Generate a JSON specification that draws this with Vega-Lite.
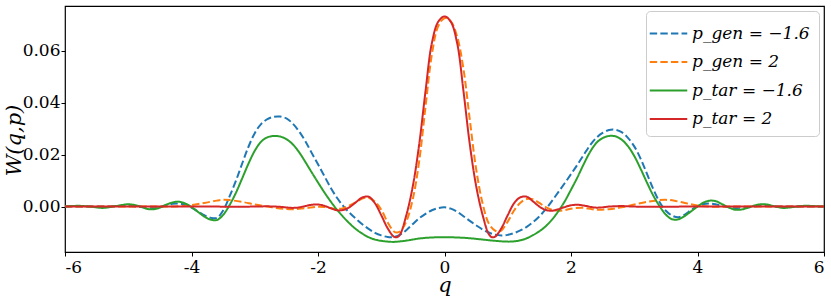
{
  "$schema": "https://vega.github.io/schema/vega-lite/v6.json",
  "width": 759,
  "height": 246,
  "autosize": {"type": "none"},
  "padding": {"left": 65, "top": 6, "right": 7, "bottom": 46},
  "config": {
    "view": {"stroke": "black", "strokeWidth": 1.2},
    "font": "DejaVu Serif",
    "axis": {"domain": false, "grid": false, "tickColor": "black", "tickSize": 4, "tickWidth": 1, "labelColor": "black", "labelFont": "DejaVu Serif", "labelFontSize": 17, "titleFont": "DejaVu Serif", "titleFontStyle": "italic", "titleFontWeight": "normal", "titleColor": "black"},
    "legend": {"labelFont": "DejaVu Serif", "labelFontStyle": "italic", "labelFontSize": 17, "labelColor": "black", "labelLimit": 300}
  },
  "data": {"values": [
    {"q": -6, "W": 0, "s": "p_gen = −1.6"},
    {"q": -5.6, "W": 0, "s": "p_gen = −1.6"},
    {"q": -5.2, "W": 0.0001, "s": "p_gen = −1.6"},
    {"q": -5.0, "W": 0.0003, "s": "p_gen = −1.6"},
    {"q": -4.8, "W": -0.0002, "s": "p_gen = −1.6"},
    {"q": -4.6, "W": -0.0005, "s": "p_gen = −1.6"},
    {"q": -4.5, "W": -0.0002, "s": "p_gen = −1.6"},
    {"q": -4.4, "W": 0.0006, "s": "p_gen = −1.6"},
    {"q": -4.3, "W": 0.0011, "s": "p_gen = −1.6"},
    {"q": -4.2, "W": 0.0012, "s": "p_gen = −1.6"},
    {"q": -4.1, "W": 0.0007, "s": "p_gen = −1.6"},
    {"q": -4.0, "W": -0.0004, "s": "p_gen = −1.6"},
    {"q": -3.9, "W": -0.0018, "s": "p_gen = −1.6"},
    {"q": -3.8, "W": -0.0033, "s": "p_gen = −1.6"},
    {"q": -3.7, "W": -0.0043, "s": "p_gen = −1.6"},
    {"q": -3.6, "W": -0.0044, "s": "p_gen = −1.6"},
    {"q": -3.5, "W": -0.0015, "s": "p_gen = −1.6"},
    {"q": -3.4, "W": 0.0038, "s": "p_gen = −1.6"},
    {"q": -3.3, "W": 0.0098, "s": "p_gen = −1.6"},
    {"q": -3.2, "W": 0.0165, "s": "p_gen = −1.6"},
    {"q": -3.1, "W": 0.0230, "s": "p_gen = −1.6"},
    {"q": -3.0, "W": 0.0283, "s": "p_gen = −1.6"},
    {"q": -2.9, "W": 0.0318, "s": "p_gen = −1.6"},
    {"q": -2.8, "W": 0.0337, "s": "p_gen = −1.6"},
    {"q": -2.7, "W": 0.0346, "s": "p_gen = −1.6"},
    {"q": -2.6, "W": 0.0347, "s": "p_gen = −1.6"},
    {"q": -2.5, "W": 0.0340, "s": "p_gen = −1.6"},
    {"q": -2.4, "W": 0.0320, "s": "p_gen = −1.6"},
    {"q": -2.3, "W": 0.0290, "s": "p_gen = −1.6"},
    {"q": -2.2, "W": 0.0252, "s": "p_gen = −1.6"},
    {"q": -2.1, "W": 0.0207, "s": "p_gen = −1.6"},
    {"q": -2.0, "W": 0.0163, "s": "p_gen = −1.6"},
    {"q": -1.9, "W": 0.0118, "s": "p_gen = −1.6"},
    {"q": -1.8, "W": 0.0073, "s": "p_gen = −1.6"},
    {"q": -1.7, "W": 0.0034, "s": "p_gen = −1.6"},
    {"q": -1.6, "W": 0.0002, "s": "p_gen = −1.6"},
    {"q": -1.5, "W": -0.0024, "s": "p_gen = −1.6"},
    {"q": -1.4, "W": -0.0047, "s": "p_gen = −1.6"},
    {"q": -1.3, "W": -0.0068, "s": "p_gen = −1.6"},
    {"q": -1.2, "W": -0.0086, "s": "p_gen = −1.6"},
    {"q": -1.1, "W": -0.0101, "s": "p_gen = −1.6"},
    {"q": -1.0, "W": -0.0111, "s": "p_gen = −1.6"},
    {"q": -0.9, "W": -0.0117, "s": "p_gen = −1.6"},
    {"q": -0.8, "W": -0.0117, "s": "p_gen = −1.6"},
    {"q": -0.7, "W": -0.0108, "s": "p_gen = −1.6"},
    {"q": -0.6, "W": -0.0090, "s": "p_gen = −1.6"},
    {"q": -0.5, "W": -0.0067, "s": "p_gen = −1.6"},
    {"q": -0.4, "W": -0.0045, "s": "p_gen = −1.6"},
    {"q": -0.3, "W": -0.0028, "s": "p_gen = −1.6"},
    {"q": -0.2, "W": -0.0014, "s": "p_gen = −1.6"},
    {"q": -0.1, "W": -0.0006, "s": "p_gen = −1.6"},
    {"q": 0.0, "W": -0.0003, "s": "p_gen = −1.6"},
    {"q": 0.1, "W": -0.0008, "s": "p_gen = −1.6"},
    {"q": 0.2, "W": -0.0020, "s": "p_gen = −1.6"},
    {"q": 0.3, "W": -0.0037, "s": "p_gen = −1.6"},
    {"q": 0.4, "W": -0.0055, "s": "p_gen = −1.6"},
    {"q": 0.5, "W": -0.0072, "s": "p_gen = −1.6"},
    {"q": 0.6, "W": -0.0088, "s": "p_gen = −1.6"},
    {"q": 0.7, "W": -0.0100, "s": "p_gen = −1.6"},
    {"q": 0.8, "W": -0.0108, "s": "p_gen = −1.6"},
    {"q": 0.9, "W": -0.0111, "s": "p_gen = −1.6"},
    {"q": 1.0, "W": -0.0109, "s": "p_gen = −1.6"},
    {"q": 1.1, "W": -0.0102, "s": "p_gen = −1.6"},
    {"q": 1.2, "W": -0.0092, "s": "p_gen = −1.6"},
    {"q": 1.3, "W": -0.0078, "s": "p_gen = −1.6"},
    {"q": 1.4, "W": -0.0060, "s": "p_gen = −1.6"},
    {"q": 1.5, "W": -0.0038, "s": "p_gen = −1.6"},
    {"q": 1.6, "W": -0.0010, "s": "p_gen = −1.6"},
    {"q": 1.7, "W": 0.0022, "s": "p_gen = −1.6"},
    {"q": 1.8, "W": 0.0056, "s": "p_gen = −1.6"},
    {"q": 1.9, "W": 0.0090, "s": "p_gen = −1.6"},
    {"q": 2.0, "W": 0.0125, "s": "p_gen = −1.6"},
    {"q": 2.1, "W": 0.0161, "s": "p_gen = −1.6"},
    {"q": 2.2, "W": 0.0199, "s": "p_gen = −1.6"},
    {"q": 2.3, "W": 0.0236, "s": "p_gen = −1.6"},
    {"q": 2.4, "W": 0.0265, "s": "p_gen = −1.6"},
    {"q": 2.5, "W": 0.0284, "s": "p_gen = −1.6"},
    {"q": 2.6, "W": 0.0295, "s": "p_gen = −1.6"},
    {"q": 2.7, "W": 0.0296, "s": "p_gen = −1.6"},
    {"q": 2.8, "W": 0.0287, "s": "p_gen = −1.6"},
    {"q": 2.9, "W": 0.0265, "s": "p_gen = −1.6"},
    {"q": 3.0, "W": 0.0232, "s": "p_gen = −1.6"},
    {"q": 3.1, "W": 0.0185, "s": "p_gen = −1.6"},
    {"q": 3.2, "W": 0.0127, "s": "p_gen = −1.6"},
    {"q": 3.3, "W": 0.0068, "s": "p_gen = −1.6"},
    {"q": 3.4, "W": 0.0018, "s": "p_gen = −1.6"},
    {"q": 3.5, "W": -0.0016, "s": "p_gen = −1.6"},
    {"q": 3.6, "W": -0.0035, "s": "p_gen = −1.6"},
    {"q": 3.7, "W": -0.0041, "s": "p_gen = −1.6"},
    {"q": 3.8, "W": -0.0031, "s": "p_gen = −1.6"},
    {"q": 3.9, "W": -0.0013, "s": "p_gen = −1.6"},
    {"q": 4.0, "W": 0.0002, "s": "p_gen = −1.6"},
    {"q": 4.1, "W": 0.0010, "s": "p_gen = −1.6"},
    {"q": 4.2, "W": 0.0012, "s": "p_gen = −1.6"},
    {"q": 4.3, "W": 0.0008, "s": "p_gen = −1.6"},
    {"q": 4.4, "W": 0.0002, "s": "p_gen = −1.6"},
    {"q": 4.5, "W": -0.0003, "s": "p_gen = −1.6"},
    {"q": 4.6, "W": -0.0005, "s": "p_gen = −1.6"},
    {"q": 4.8, "W": -0.0003, "s": "p_gen = −1.6"},
    {"q": 5.0, "W": 0.0003, "s": "p_gen = −1.6"},
    {"q": 5.2, "W": 0.0001, "s": "p_gen = −1.6"},
    {"q": 5.6, "W": 0, "s": "p_gen = −1.6"},
    {"q": 6.0, "W": 0, "s": "p_gen = −1.6"},

    {"q": -6, "W": 0, "s": "p_gen = 2"},
    {"q": -5, "W": 0, "s": "p_gen = 2"},
    {"q": -4.6, "W": 0, "s": "p_gen = 2"},
    {"q": -4.4, "W": 0.0000, "s": "p_gen = 2"},
    {"q": -4.2, "W": 0.0001, "s": "p_gen = 2"},
    {"q": -4.0, "W": 0.0006, "s": "p_gen = 2"},
    {"q": -3.8, "W": 0.0014, "s": "p_gen = 2"},
    {"q": -3.6, "W": 0.0023, "s": "p_gen = 2"},
    {"q": -3.5, "W": 0.0026, "s": "p_gen = 2"},
    {"q": -3.4, "W": 0.0025, "s": "p_gen = 2"},
    {"q": -3.2, "W": 0.0018, "s": "p_gen = 2"},
    {"q": -3.0, "W": 0.0008, "s": "p_gen = 2"},
    {"q": -2.8, "W": 0.0000, "s": "p_gen = 2"},
    {"q": -2.6, "W": -0.0007, "s": "p_gen = 2"},
    {"q": -2.4, "W": -0.0010, "s": "p_gen = 2"},
    {"q": -2.2, "W": -0.0006, "s": "p_gen = 2"},
    {"q": -2.0, "W": -0.0001, "s": "p_gen = 2"},
    {"q": -1.9, "W": -0.0002, "s": "p_gen = 2"},
    {"q": -1.8, "W": -0.0006, "s": "p_gen = 2"},
    {"q": -1.7, "W": -0.0009, "s": "p_gen = 2"},
    {"q": -1.6, "W": -0.0006, "s": "p_gen = 2"},
    {"q": -1.5, "W": 0.0005, "s": "p_gen = 2"},
    {"q": -1.4, "W": 0.0017, "s": "p_gen = 2"},
    {"q": -1.3, "W": 0.0031, "s": "p_gen = 2"},
    {"q": -1.2, "W": 0.0034, "s": "p_gen = 2"},
    {"q": -1.1, "W": 0.0019, "s": "p_gen = 2"},
    {"q": -1.0, "W": -0.0012, "s": "p_gen = 2"},
    {"q": -0.9, "W": -0.0060, "s": "p_gen = 2"},
    {"q": -0.8, "W": -0.0096, "s": "p_gen = 2"},
    {"q": -0.75, "W": -0.0100, "s": "p_gen = 2"},
    {"q": -0.7, "W": -0.0095, "s": "p_gen = 2"},
    {"q": -0.6, "W": -0.0055, "s": "p_gen = 2"},
    {"q": -0.5, "W": 0.0030, "s": "p_gen = 2"},
    {"q": -0.4, "W": 0.0175, "s": "p_gen = 2"},
    {"q": -0.3, "W": 0.0385, "s": "p_gen = 2"},
    {"q": -0.2, "W": 0.0585, "s": "p_gen = 2"},
    {"q": -0.1, "W": 0.0695, "s": "p_gen = 2"},
    {"q": 0.0, "W": 0.0726, "s": "p_gen = 2"},
    {"q": 0.1, "W": 0.0714, "s": "p_gen = 2"},
    {"q": 0.2, "W": 0.0655, "s": "p_gen = 2"},
    {"q": 0.3, "W": 0.0530, "s": "p_gen = 2"},
    {"q": 0.4, "W": 0.0335, "s": "p_gen = 2"},
    {"q": 0.5, "W": 0.0145, "s": "p_gen = 2"},
    {"q": 0.6, "W": 0.0015, "s": "p_gen = 2"},
    {"q": 0.7, "W": -0.0065, "s": "p_gen = 2"},
    {"q": 0.8, "W": -0.0093, "s": "p_gen = 2"},
    {"q": 0.85, "W": -0.0096, "s": "p_gen = 2"},
    {"q": 0.9, "W": -0.0092, "s": "p_gen = 2"},
    {"q": 1.0, "W": -0.0058, "s": "p_gen = 2"},
    {"q": 1.1, "W": -0.0015, "s": "p_gen = 2"},
    {"q": 1.2, "W": 0.0015, "s": "p_gen = 2"},
    {"q": 1.3, "W": 0.0029, "s": "p_gen = 2"},
    {"q": 1.4, "W": 0.0028, "s": "p_gen = 2"},
    {"q": 1.5, "W": 0.0014, "s": "p_gen = 2"},
    {"q": 1.6, "W": -0.0002, "s": "p_gen = 2"},
    {"q": 1.7, "W": -0.0012, "s": "p_gen = 2"},
    {"q": 1.8, "W": -0.0016, "s": "p_gen = 2"},
    {"q": 1.9, "W": -0.0014, "s": "p_gen = 2"},
    {"q": 2.0, "W": -0.0008, "s": "p_gen = 2"},
    {"q": 2.2, "W": -0.0005, "s": "p_gen = 2"},
    {"q": 2.4, "W": -0.0012, "s": "p_gen = 2"},
    {"q": 2.6, "W": -0.0010, "s": "p_gen = 2"},
    {"q": 2.8, "W": -0.0003, "s": "p_gen = 2"},
    {"q": 3.0, "W": 0.0008, "s": "p_gen = 2"},
    {"q": 3.2, "W": 0.0018, "s": "p_gen = 2"},
    {"q": 3.4, "W": 0.0025, "s": "p_gen = 2"},
    {"q": 3.5, "W": 0.0026, "s": "p_gen = 2"},
    {"q": 3.6, "W": 0.0024, "s": "p_gen = 2"},
    {"q": 3.8, "W": 0.0014, "s": "p_gen = 2"},
    {"q": 4.0, "W": 0.0004, "s": "p_gen = 2"},
    {"q": 4.2, "W": 0.0000, "s": "p_gen = 2"},
    {"q": 4.6, "W": 0, "s": "p_gen = 2"},
    {"q": 6.0, "W": 0, "s": "p_gen = 2"},

    {"q": -6, "W": 0, "s": "p_tar = −1.6"},
    {"q": -5.8, "W": 0.0003, "s": "p_tar = −1.6"},
    {"q": -5.6, "W": 0.0, "s": "p_tar = −1.6"},
    {"q": -5.4, "W": -0.0005, "s": "p_tar = −1.6"},
    {"q": -5.2, "W": 0.0002, "s": "p_tar = −1.6"},
    {"q": -5.0, "W": 0.0009, "s": "p_tar = −1.6"},
    {"q": -4.9, "W": 0.0006, "s": "p_tar = −1.6"},
    {"q": -4.8, "W": 0.0, "s": "p_tar = −1.6"},
    {"q": -4.7, "W": -0.0009, "s": "p_tar = −1.6"},
    {"q": -4.6, "W": -0.0010, "s": "p_tar = −1.6"},
    {"q": -4.5, "W": -0.0004, "s": "p_tar = −1.6"},
    {"q": -4.4, "W": 0.0007, "s": "p_tar = −1.6"},
    {"q": -4.3, "W": 0.0016, "s": "p_tar = −1.6"},
    {"q": -4.2, "W": 0.0019, "s": "p_tar = −1.6"},
    {"q": -4.1, "W": 0.0012, "s": "p_tar = −1.6"},
    {"q": -4.0, "W": -0.0002, "s": "p_tar = −1.6"},
    {"q": -3.9, "W": -0.0020, "s": "p_tar = −1.6"},
    {"q": -3.8, "W": -0.0038, "s": "p_tar = −1.6"},
    {"q": -3.7, "W": -0.0050, "s": "p_tar = −1.6"},
    {"q": -3.6, "W": -0.0052, "s": "p_tar = −1.6"},
    {"q": -3.5, "W": -0.0032, "s": "p_tar = −1.6"},
    {"q": -3.4, "W": 0.0005, "s": "p_tar = −1.6"},
    {"q": -3.3, "W": 0.0052, "s": "p_tar = −1.6"},
    {"q": -3.2, "W": 0.0108, "s": "p_tar = −1.6"},
    {"q": -3.1, "W": 0.0165, "s": "p_tar = −1.6"},
    {"q": -3.0, "W": 0.0215, "s": "p_tar = −1.6"},
    {"q": -2.9, "W": 0.0250, "s": "p_tar = −1.6"},
    {"q": -2.8, "W": 0.0267, "s": "p_tar = −1.6"},
    {"q": -2.7, "W": 0.0272, "s": "p_tar = −1.6"},
    {"q": -2.6, "W": 0.0270, "s": "p_tar = −1.6"},
    {"q": -2.5, "W": 0.0260, "s": "p_tar = −1.6"},
    {"q": -2.4, "W": 0.0240, "s": "p_tar = −1.6"},
    {"q": -2.3, "W": 0.0210, "s": "p_tar = −1.6"},
    {"q": -2.2, "W": 0.0172, "s": "p_tar = −1.6"},
    {"q": -2.1, "W": 0.0132, "s": "p_tar = −1.6"},
    {"q": -2.0, "W": 0.0093, "s": "p_tar = −1.6"},
    {"q": -1.9, "W": 0.0055, "s": "p_tar = −1.6"},
    {"q": -1.8, "W": 0.0020, "s": "p_tar = −1.6"},
    {"q": -1.7, "W": -0.0012, "s": "p_tar = −1.6"},
    {"q": -1.6, "W": -0.0040, "s": "p_tar = −1.6"},
    {"q": -1.5, "W": -0.0065, "s": "p_tar = −1.6"},
    {"q": -1.4, "W": -0.0087, "s": "p_tar = −1.6"},
    {"q": -1.3, "W": -0.0104, "s": "p_tar = −1.6"},
    {"q": -1.2, "W": -0.0118, "s": "p_tar = −1.6"},
    {"q": -1.1, "W": -0.0127, "s": "p_tar = −1.6"},
    {"q": -1.0, "W": -0.0132, "s": "p_tar = −1.6"},
    {"q": -0.9, "W": -0.0135, "s": "p_tar = −1.6"},
    {"q": -0.8, "W": -0.0136, "s": "p_tar = −1.6"},
    {"q": -0.7, "W": -0.0134, "s": "p_tar = −1.6"},
    {"q": -0.6, "W": -0.0131, "s": "p_tar = −1.6"},
    {"q": -0.5, "W": -0.0127, "s": "p_tar = −1.6"},
    {"q": -0.4, "W": -0.0123, "s": "p_tar = −1.6"},
    {"q": -0.2, "W": -0.0119, "s": "p_tar = −1.6"},
    {"q": 0.0, "W": -0.0118, "s": "p_tar = −1.6"},
    {"q": 0.2, "W": -0.0119, "s": "p_tar = −1.6"},
    {"q": 0.4, "W": -0.0122, "s": "p_tar = −1.6"},
    {"q": 0.6, "W": -0.0127, "s": "p_tar = −1.6"},
    {"q": 0.8, "W": -0.0132, "s": "p_tar = −1.6"},
    {"q": 1.0, "W": -0.0135, "s": "p_tar = −1.6"},
    {"q": 1.1, "W": -0.0134, "s": "p_tar = −1.6"},
    {"q": 1.2, "W": -0.0130, "s": "p_tar = −1.6"},
    {"q": 1.3, "W": -0.0122, "s": "p_tar = −1.6"},
    {"q": 1.4, "W": -0.0110, "s": "p_tar = −1.6"},
    {"q": 1.5, "W": -0.0095, "s": "p_tar = −1.6"},
    {"q": 1.6, "W": -0.0076, "s": "p_tar = −1.6"},
    {"q": 1.7, "W": -0.0050, "s": "p_tar = −1.6"},
    {"q": 1.8, "W": -0.0018, "s": "p_tar = −1.6"},
    {"q": 1.9, "W": 0.0020, "s": "p_tar = −1.6"},
    {"q": 2.0, "W": 0.0065, "s": "p_tar = −1.6"},
    {"q": 2.1, "W": 0.0112, "s": "p_tar = −1.6"},
    {"q": 2.2, "W": 0.0163, "s": "p_tar = −1.6"},
    {"q": 2.3, "W": 0.0210, "s": "p_tar = −1.6"},
    {"q": 2.4, "W": 0.0245, "s": "p_tar = −1.6"},
    {"q": 2.5, "W": 0.0264, "s": "p_tar = −1.6"},
    {"q": 2.6, "W": 0.0272, "s": "p_tar = −1.6"},
    {"q": 2.7, "W": 0.0271, "s": "p_tar = −1.6"},
    {"q": 2.8, "W": 0.0258, "s": "p_tar = −1.6"},
    {"q": 2.9, "W": 0.0233, "s": "p_tar = −1.6"},
    {"q": 3.0, "W": 0.0195, "s": "p_tar = −1.6"},
    {"q": 3.1, "W": 0.0146, "s": "p_tar = −1.6"},
    {"q": 3.2, "W": 0.0093, "s": "p_tar = −1.6"},
    {"q": 3.3, "W": 0.0043, "s": "p_tar = −1.6"},
    {"q": 3.4, "W": 0.0002, "s": "p_tar = −1.6"},
    {"q": 3.5, "W": -0.0031, "s": "p_tar = −1.6"},
    {"q": 3.6, "W": -0.0049, "s": "p_tar = −1.6"},
    {"q": 3.7, "W": -0.0049, "s": "p_tar = −1.6"},
    {"q": 3.8, "W": -0.0036, "s": "p_tar = −1.6"},
    {"q": 3.9, "W": -0.0018, "s": "p_tar = −1.6"},
    {"q": 4.0, "W": 0.0000, "s": "p_tar = −1.6"},
    {"q": 4.1, "W": 0.0016, "s": "p_tar = −1.6"},
    {"q": 4.2, "W": 0.0023, "s": "p_tar = −1.6"},
    {"q": 4.3, "W": 0.0020, "s": "p_tar = −1.6"},
    {"q": 4.4, "W": 0.0008, "s": "p_tar = −1.6"},
    {"q": 4.5, "W": -0.0004, "s": "p_tar = −1.6"},
    {"q": 4.6, "W": -0.0012, "s": "p_tar = −1.6"},
    {"q": 4.7, "W": -0.0011, "s": "p_tar = −1.6"},
    {"q": 4.8, "W": -0.0004, "s": "p_tar = −1.6"},
    {"q": 4.9, "W": 0.0004, "s": "p_tar = −1.6"},
    {"q": 5.0, "W": 0.0009, "s": "p_tar = −1.6"},
    {"q": 5.1, "W": 0.0008, "s": "p_tar = −1.6"},
    {"q": 5.2, "W": 0.0002, "s": "p_tar = −1.6"},
    {"q": 5.35, "W": -0.0005, "s": "p_tar = −1.6"},
    {"q": 5.5, "W": -0.0002, "s": "p_tar = −1.6"},
    {"q": 5.7, "W": 0.0003, "s": "p_tar = −1.6"},
    {"q": 5.9, "W": 0.0001, "s": "p_tar = −1.6"},
    {"q": 6.0, "W": 0, "s": "p_tar = −1.6"},

    {"q": -6, "W": 0, "s": "p_tar = 2"},
    {"q": -4, "W": 0, "s": "p_tar = 2"},
    {"q": -3, "W": 0, "s": "p_tar = 2"},
    {"q": -2.8, "W": 0.0001, "s": "p_tar = 2"},
    {"q": -2.6, "W": -0.0001, "s": "p_tar = 2"},
    {"q": -2.4, "W": -0.0005, "s": "p_tar = 2"},
    {"q": -2.3, "W": -0.0003, "s": "p_tar = 2"},
    {"q": -2.2, "W": 0.0002, "s": "p_tar = 2"},
    {"q": -2.1, "W": 0.0007, "s": "p_tar = 2"},
    {"q": -2.0, "W": 0.0008, "s": "p_tar = 2"},
    {"q": -1.9, "W": 0.0003, "s": "p_tar = 2"},
    {"q": -1.8, "W": -0.0006, "s": "p_tar = 2"},
    {"q": -1.7, "W": -0.0014, "s": "p_tar = 2"},
    {"q": -1.6, "W": -0.0013, "s": "p_tar = 2"},
    {"q": -1.5, "W": -0.0002, "s": "p_tar = 2"},
    {"q": -1.4, "W": 0.0017, "s": "p_tar = 2"},
    {"q": -1.3, "W": 0.0035, "s": "p_tar = 2"},
    {"q": -1.2, "W": 0.0038, "s": "p_tar = 2"},
    {"q": -1.1, "W": 0.0013, "s": "p_tar = 2"},
    {"q": -1.0, "W": -0.0033, "s": "p_tar = 2"},
    {"q": -0.9, "W": -0.0083, "s": "p_tar = 2"},
    {"q": -0.8, "W": -0.0116, "s": "p_tar = 2"},
    {"q": -0.75, "W": -0.0118, "s": "p_tar = 2"},
    {"q": -0.7, "W": -0.0106, "s": "p_tar = 2"},
    {"q": -0.6, "W": -0.0030, "s": "p_tar = 2"},
    {"q": -0.5, "W": 0.0080, "s": "p_tar = 2"},
    {"q": -0.4, "W": 0.0240, "s": "p_tar = 2"},
    {"q": -0.3, "W": 0.0445, "s": "p_tar = 2"},
    {"q": -0.2, "W": 0.0630, "s": "p_tar = 2"},
    {"q": -0.1, "W": 0.0712, "s": "p_tar = 2"},
    {"q": 0.0, "W": 0.0733, "s": "p_tar = 2"},
    {"q": 0.1, "W": 0.0712, "s": "p_tar = 2"},
    {"q": 0.2, "W": 0.0630, "s": "p_tar = 2"},
    {"q": 0.3, "W": 0.0445, "s": "p_tar = 2"},
    {"q": 0.4, "W": 0.0240, "s": "p_tar = 2"},
    {"q": 0.5, "W": 0.0080, "s": "p_tar = 2"},
    {"q": 0.6, "W": -0.0030, "s": "p_tar = 2"},
    {"q": 0.7, "W": -0.0106, "s": "p_tar = 2"},
    {"q": 0.75, "W": -0.0118, "s": "p_tar = 2"},
    {"q": 0.8, "W": -0.0116, "s": "p_tar = 2"},
    {"q": 0.9, "W": -0.0083, "s": "p_tar = 2"},
    {"q": 1.0, "W": -0.0033, "s": "p_tar = 2"},
    {"q": 1.1, "W": 0.0013, "s": "p_tar = 2"},
    {"q": 1.2, "W": 0.0036, "s": "p_tar = 2"},
    {"q": 1.3, "W": 0.0038, "s": "p_tar = 2"},
    {"q": 1.4, "W": 0.0020, "s": "p_tar = 2"},
    {"q": 1.5, "W": 0.0000, "s": "p_tar = 2"},
    {"q": 1.6, "W": -0.0013, "s": "p_tar = 2"},
    {"q": 1.7, "W": -0.0016, "s": "p_tar = 2"},
    {"q": 1.8, "W": -0.0010, "s": "p_tar = 2"},
    {"q": 1.9, "W": -0.0002, "s": "p_tar = 2"},
    {"q": 2.0, "W": 0.0005, "s": "p_tar = 2"},
    {"q": 2.1, "W": 0.0007, "s": "p_tar = 2"},
    {"q": 2.2, "W": 0.0004, "s": "p_tar = 2"},
    {"q": 2.4, "W": -0.0004, "s": "p_tar = 2"},
    {"q": 2.6, "W": 0.0000, "s": "p_tar = 2"},
    {"q": 2.8, "W": 0.0002, "s": "p_tar = 2"},
    {"q": 3.0, "W": 0, "s": "p_tar = 2"},
    {"q": 4.0, "W": 0, "s": "p_tar = 2"},
    {"q": 6.0, "W": 0, "s": "p_tar = 2"}
  ]},
  "mark": {"type": "line", "strokeWidth": 2, "interpolate": "catmull-rom", "clip": true},
  "encoding": {
    "x": {"field": "q", "type": "quantitative", "scale": {"domain": [-6, 6], "nice": false},
      "axis": {"values": [-6, -4, -2, 0, 2, 4, 6], "labelExpr": "datum.value < 0 ? '-' + abs(datum.value) : '' + datum.value", "title": "q", "titleFontSize": 21, "titleBaseline": "alphabetic", "titleY": 39, "labelPadding": 3}},
    "y": {"field": "W", "type": "quantitative", "scale": {"domain": [-0.0175, 0.0773], "nice": false, "zero": false},
      "axis": {"values": [0, 0.02, 0.04, 0.06], "format": ".2f", "title": "W(q,p)", "titleFontSize": 21, "titleBaseline": "alphabetic", "titleX": -45, "titleY": 134, "labelPadding": 1}},
    "color": {"field": "s", "type": "nominal",
      "scale": {"domain": ["p_gen = −1.6", "p_gen = 2", "p_tar = −1.6", "p_tar = 2"], "range": ["#1f77b4", "#ff7f0e", "#2ca02c", "#d62728"]},
      "legend": {"title": null, "orient": "top-right", "offset": 5, "padding": 9, "symbolType": "M-1.5,0H1.5", "symbolSize": 625, "symbolStrokeWidth": 2, "labelOffset": 10, "rowPadding": 6.5, "fillColor": "rgba(255,255,255,0.8)", "strokeColor": "#cccccc", "cornerRadius": 4}},
    "strokeDash": {"field": "s", "type": "nominal",
      "scale": {"domain": ["p_gen = −1.6", "p_gen = 2", "p_tar = −1.6", "p_tar = 2"], "range": [[7.4, 3.2], [7.4, 3.2], [1, 0], [1, 0]]},
      "legend": {"title": null, "orient": "top-right"}}
  }
}
